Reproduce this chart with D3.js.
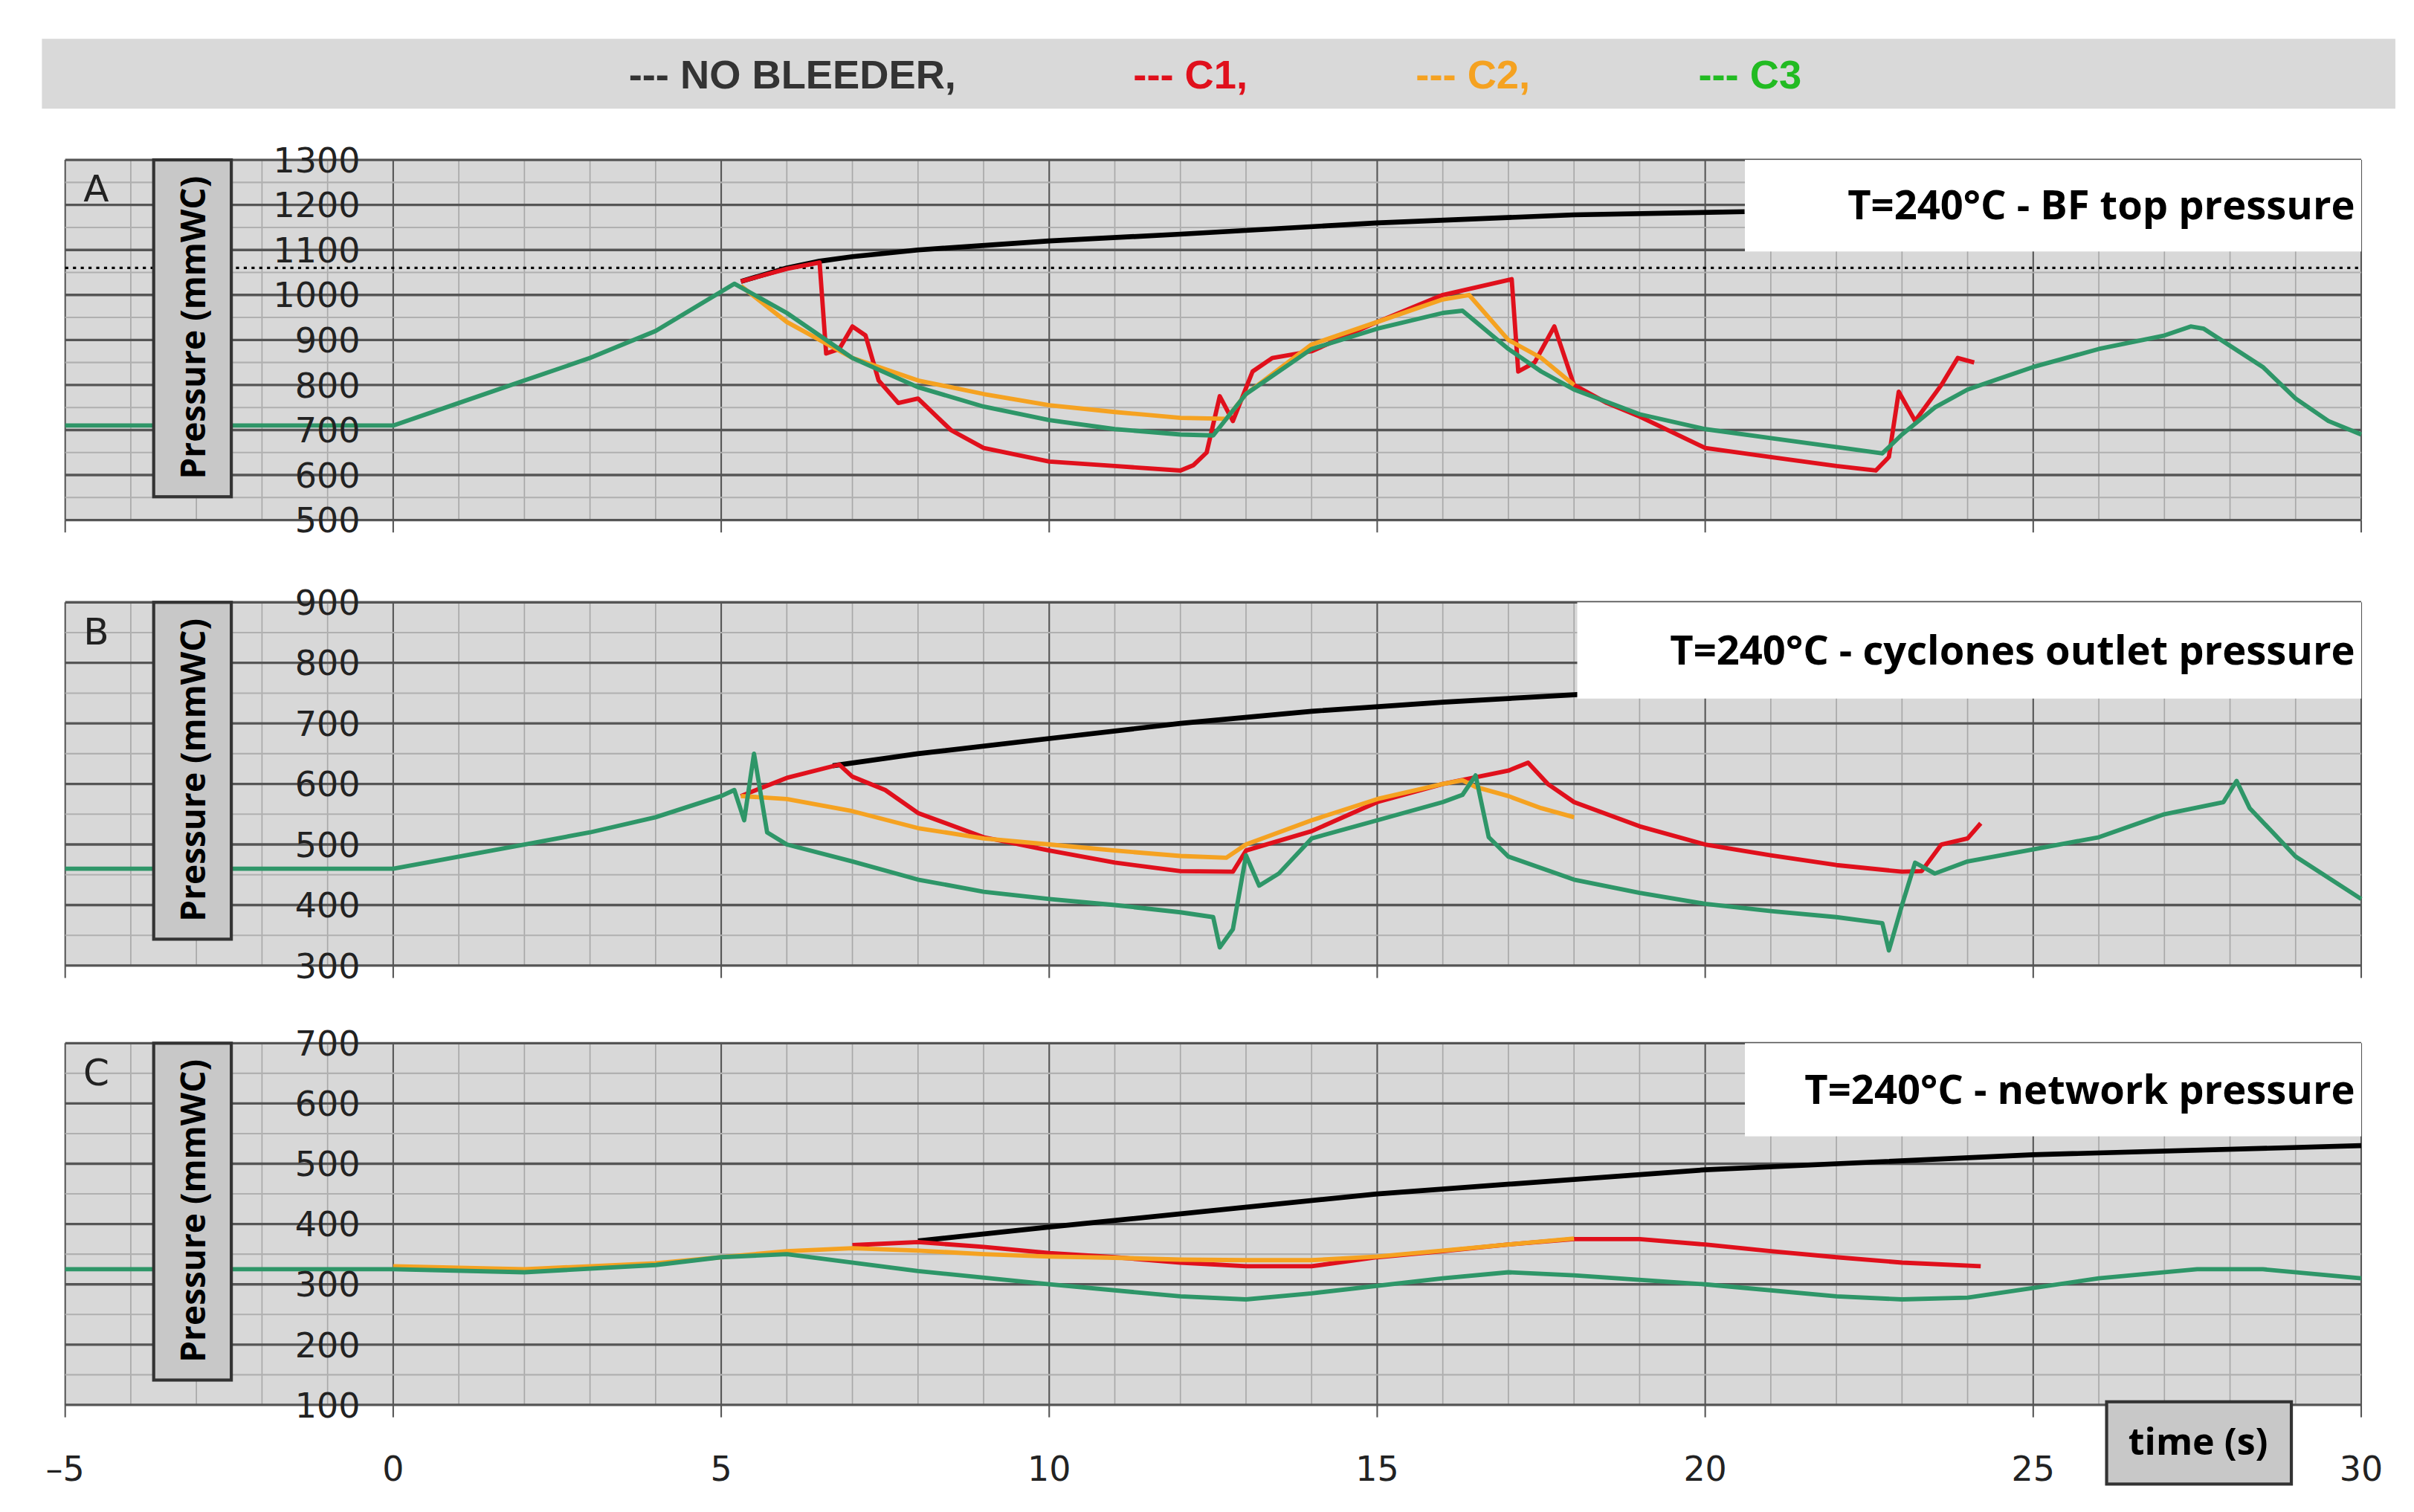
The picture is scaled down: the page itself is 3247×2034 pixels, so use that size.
<!DOCTYPE html>
<html>
<head>
<meta charset="utf-8">
<script src="https://d3js.org/d3.v7.min.js"></script>
<style>
  body { margin: 0; background: #fff; }
  text { font-family: "DejaVu Sans", sans-serif; }
</style>
</head>
<body>
<script>
// ---- data: [time (s), pressure (mmWC)] ----
var aNoBleeder = [[5.3,1030],[6,1060],[6.5,1075],[7,1085],[8,1100],[10,1120],[12,1135],[15,1160],[18,1178],[20.6,1185]];
var aC1 = [[5.3,1030],[6,1058],[6.5,1072],[6.6,870],[6.8,880],[7,930],[7.2,910],[7.4,810],[7.7,760],[8,770],[8.5,700],[9,660],[10,630],[11,620],[12,610],[12.2,622],[12.4,650],[12.6,775],[12.8,720],[13.1,830],[13.4,860],[14,875],[15,940],[16,1000],[17.05,1035],[17.15,830],[17.4,850],[17.7,930],[18,800],[18.5,760],[19,730],[20,660],[21,640],[22,620],[22.6,610],[22.8,640],[22.95,785],[23.2,720],[23.6,800],[23.85,860],[24.1,850]];
var aC2 = [[5.3,1020],[6,940],[7,860],[8,810],[9,780],[10,755],[11,740],[12,727],[12.7,725],[13,780],[14,890],[15,940],[16,990],[16.4,1000],[17,900],[17.5,860],[18,800]];
var aC3 = [[-5,710],[0,710],[1,760],[2,810],[3,860],[4,920],[5.2,1025],[6,960],[7,860],[8,795],[9,752],[10,722],[11,702],[12,690],[12.5,688],[13,780],[14,880],[15,925],[16,960],[16.3,965],[17,880],[17.5,830],[18,790],[19,735],[20,702],[21,682],[22,662],[22.7,648],[23,690],[23.5,750],[24,790],[25,840],[26,880],[27,910],[27.4,930],[27.6,925],[28.5,840],[29,770],[29.5,720],[30,690]];

var bNoBleeder = [[6.7,630],[8,650],[10,675],[12,700],[14,720],[16,735],[18.1,748]];
var bC1 = [[5.3,580],[6,610],[6.8,632],[7,612],[7.5,590],[8,552],[9,512],[10,490],[11,470],[12,456],[12.8,455],[13,490],[14,522],[15,570],[16,600],[17,622],[17.3,635],[17.6,600],[18,570],[19,530],[20,500],[21,482],[22,466],[23,455],[23.3,456],[23.6,500],[24,510],[24.2,535]];
var bC2 = [[5.3,580],[6,575],[7,555],[8,527],[9,510],[10,500],[11,490],[12,481],[12.7,478],[13,500],[14,540],[15,575],[16,600],[16.3,606],[16.5,595],[17,580],[17.5,560],[18,545]];
var bC3 = [[-5,460],[0,460],[1,480],[2,500],[3,520],[4,545],[5,580],[5.2,590],[5.35,540],[5.5,650],[5.7,520],[6,500],[7,472],[8,442],[9,422],[10,410],[11,400],[12,388],[12.5,380],[12.6,330],[12.8,360],[13,482],[13.2,432],[13.5,452],[14,510],[15,540],[16,570],[16.3,582],[16.5,614],[16.7,512],[17,480],[18,442],[19,420],[20,402],[21,390],[22,380],[22.7,370],[22.8,325],[23,400],[23.2,470],[23.5,452],[24,472],[25,492],[26,512],[27,550],[27.9,570],[28.1,605],[28.3,560],[29,480],[30,410]];

var cNoBleeder = [[8,372],[10,395],[15,450],[20,490],[25,515],[30,530]];
var cC1 = [[7,365],[8,370],[9,362],[10,352],[11,345],[12,336],[13,330],[14,330],[15,345],[16,355],[17,366],[18,375],[19,375],[20,366],[21,355],[22,345],[23,336],[24.2,330]];
var cC2 = [[0,330],[2,325],[4,335],[5,345],[6,355],[7,360],[8,356],[9,350],[10,346],[11,344],[12,341],[13,340],[14,340],[15,346],[16,356],[17,366],[18,376]];
var cC3 = [[-5,325],[0,325],[2,320],[4,332],[5,345],[6,350],[8,322],[10,300],[12,280],[13,275],[14,285],[16,310],[17,320],[18,315],[20,300],[22,280],[23,275],[24,278],[26,310],[27.5,325],[28.5,325],[30,310]];

var xTicks = [-5, 0, 5, 10, 15, 20, 25, 30];
var panels = [
  {letter: "A", title: "T=240°C - BF top pressure", yMin: 500, yMax: 1300, top: 103, bottom: 335, titleX: 1124, titleH: 59, dotted: 1060,
   series: [aNoBleeder, aC1, aC2, aC3]},
  {letter: "B", title: "T=240°C - cyclones outlet pressure", yMin: 300, yMax: 900, top: 388, bottom: 622, titleX: 1016, titleH: 62,
   series: [bNoBleeder, bC1, bC2, bC3]},
  {letter: "C", title: "T=240°C - network pressure", yMin: 100, yMax: 700, top: 672, bottom: 905, titleX: 1124, titleH: 60,
   series: [cNoBleeder, cC1, cC2, cC3]}
];
var colors = ["#000000", "#e0101c", "#f5a221", "#2e9668"];
var legendNames = ["NO BLEEDER,", "C1,", "C2,", "C3"];
var legendColors = ["#333333", "#e0101c", "#f5a221", "#22bb22"];

var W = 1555, H = 974;
var svg = d3.select("body").append("svg")
    .attr("width", 3247).attr("height", 2034)
    .attr("viewBox", "0 0 " + W + " " + H)
    .attr("preserveAspectRatio", "none");

var x = d3.scaleLinear().domain([-5, 30]).range([42, 1521]);

// legend bar
svg.append("rect").attr("x", 27).attr("y", 25).attr("width", 1516).attr("height", 45).attr("fill", "#d9d9d9");
var legX = [405, 730, 912, 1094];
legendNames.forEach(function (n, i) {
  svg.append("text").attr("x", legX[i]).attr("y", 57)
    .attr("font-size", 26).attr("font-weight", "bold").attr("fill", legendColors[i])
    .style("font-family", "Liberation Sans, Arial, sans-serif")
    .text("--- " + n);
});

panels.forEach(function (p) {
  var y = d3.scaleLinear().domain([p.yMin, p.yMax]).range([p.bottom, p.top]);
  var g = svg.append("g");
  g.append("rect").attr("x", 42).attr("y", p.top).attr("width", 1479).attr("height", p.bottom - p.top).attr("fill", "#d8d8d8");

  // minor grid
  g.selectAll(".vmin").data(d3.range(-5, 31, 1)).enter().append("line")
    .attr("x1", d => x(d)).attr("x2", d => x(d)).attr("y1", p.top).attr("y2", p.bottom)
    .attr("stroke", d => d % 5 === 0 ? "#555" : "#a8a8a8").attr("stroke-width", d => d % 5 === 0 ? 1 : 0.8);
  g.selectAll(".hmin").data(d3.range(p.yMin, p.yMax + 1, 50)).enter().append("line")
    .attr("x1", 42).attr("x2", 1521).attr("y1", d => y(d)).attr("y2", d => y(d))
    .attr("stroke", d => d % 100 === 0 ? "#555" : "#b0b0b0").attr("stroke-width", d => d % 100 === 0 ? 1.6 : 1);
  g.selectAll(".xt").data(xTicks).enter().append("line")
    .attr("x1", d => x(d)).attr("x2", d => x(d)).attr("y1", p.bottom).attr("y2", p.bottom + 8)
    .attr("stroke", "#555");

  if (p.dotted) {
    g.append("line").attr("x1", 42).attr("x2", 1521).attr("y1", y(p.dotted)).attr("y2", y(p.dotted))
      .attr("stroke", "#000").attr("stroke-width", 1.6).attr("stroke-dasharray", "2,3");
  }

  var line = d3.line().x(d => x(d[0])).y(d => y(d[1]));
  p.series.forEach(function (s, i) {
    g.append("path").datum(s).attr("d", line).attr("fill", "none")
      .attr("stroke", colors[i]).attr("stroke-width", i === 0 ? 3.2 : 2.8).attr("stroke-linejoin", "round");
  });

  // title box
  g.append("rect").attr("x", p.titleX).attr("y", p.top).attr("width", 1521 - p.titleX).attr("height", p.titleH).attr("fill", "#fff");
  g.append("text").attr("x", 1517).attr("y", p.top + p.titleH / 2 + 9).attr("text-anchor", "end")
    .attr("font-size", 26).attr("font-weight", "bold").style("font-family", "Open Sans, sans-serif").text(p.title);

  // y tick labels
  g.selectAll(".yl").data(d3.range(p.yMin, p.yMax + 1, 100)).enter().append("text")
    .attr("x", 232).attr("y", d => y(d) + 8).attr("text-anchor", "end").attr("font-size", 22)
    .attr("fill", "#222").text(d => d);

  // y label box
  g.append("rect").attr("x", 99).attr("y", p.top).attr("width", 50).attr("height", 217)
    .attr("fill", "#c8c8c8").attr("stroke", "#333").attr("stroke-width", 2);
  g.append("text").attr("transform", "translate(132," + (p.top + 108) + ") rotate(-90)")
    .attr("text-anchor", "middle").attr("font-size", 22).attr("font-weight", "bold")
    .style("font-family", "Open Sans, sans-serif").text("Pressure (mmWC)");

  g.append("text").attr("x", 62).attr("y", p.top + 27).attr("text-anchor", "middle").attr("font-size", 24)
    .attr("fill", "#222").text(p.letter);
});

// x axis labels
svg.selectAll(".xl").data(xTicks).enter().append("text")
  .attr("x", d => x(d)).attr("y", 954).attr("text-anchor", "middle").attr("font-size", 22).attr("fill", "#222")
  .text(d => d < 0 ? "\u2013" + Math.abs(d) : d);

svg.append("rect").attr("x", 1357).attr("y", 903).attr("width", 119).attr("height", 53)
  .attr("fill", "#c8c8c8").attr("stroke", "#333").attr("stroke-width", 2);
svg.append("text").attr("x", 1416).attr("y", 937).attr("text-anchor", "middle").attr("font-size", 24)
  .attr("font-weight", "bold").style("font-family", "Open Sans, sans-serif").text("time (s)");
</script>
</body>
</html>
